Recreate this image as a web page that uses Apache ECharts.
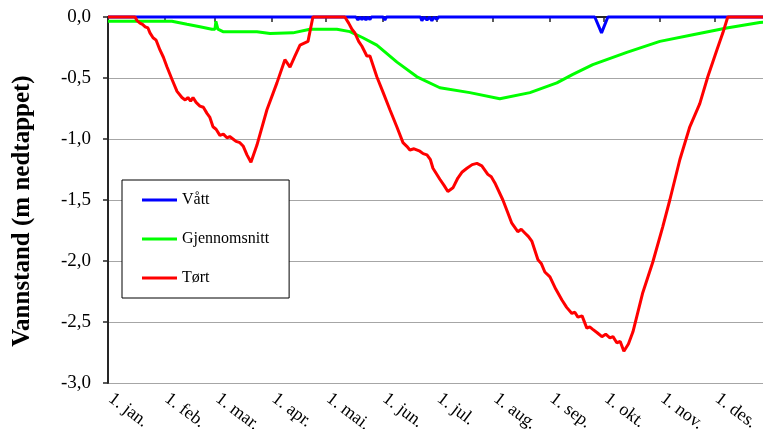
<!DOCTYPE html>
<html>
<head>
<meta charset="utf-8">
<style>
  html, body { margin: 0; padding: 0; background: #fff; }
  #chart { width: 763px; height: 429px; }
</style>
<script src="https://cdn.jsdelivr.net/npm/echarts@6/dist/echarts.min.js"></script>
</head>
<body>
<div id="chart"></div>
<script>
// Day of year (0 = 1. jan.) for the first day of each month, and their labels
const monthStarts = [0, 31, 59, 90, 120, 151, 181, 212, 243, 273, 304, 334];
const monthLabels = ['1. jan.', '1. feb.', '1. mar.', '1. apr.', '1. mai.', '1. jun.',
                     '1. jul.', '1. aug.', '1. sep.', '1. okt.', '1. nov.', '1. des.'];

// Vått (wet year)
const wetDays = [0, 136.5, 137.6, 138.7, 139.8, 141, 142, 143, 144.2, 145, 151.5, 152.4, 153.3,
                 172, 172.8, 174, 175.6, 177, 178.3, 179.5, 181, 182, 268, 271.7, 275.2, 365];
const wetLevels = [0, 0, -0.025, 0, -0.02, 0, -0.025, 0, -0.02, 0, 0, -0.025, 0,
                   0, -0.03, 0, -0.025, 0, -0.03, 0, -0.02, 0, 0, -0.13, 0, 0];

// Gjennomsnitt (average year)
const avgDays = [0, 35.2, 43.5, 50.6, 57.2, 58.9, 59.4, 60.5, 63.3, 82.0, 89.2, 101.8, 111.2,
                 126.0, 133.2, 140.3, 148.0, 159.1, 170.1, 182.7, 199.2, 215.7, 232.3, 247.1,
                 255.9, 266.9, 285.6, 303.8, 322.0, 340.6, 358.8, 365];
const avgLevels = [-0.035, -0.035, -0.06, -0.08, -0.10, -0.10, -0.035, -0.10, -0.12, -0.12, -0.135,
                   -0.13, -0.10, -0.10, -0.12, -0.17, -0.23, -0.37, -0.49, -0.58, -0.62, -0.67,
                   -0.62, -0.54, -0.47, -0.39, -0.29, -0.20, -0.145, -0.09, -0.045, -0.035];

// Tørt (dry year)
const dryDays = [0, 14.9, 16.0, 17.6, 19.0, 20.5, 22.0, 23.1, 24.8, 26.5, 28.6, 30.5, 32.5, 35.2,
                 38.0, 40.7, 42.5, 44.0, 45.5, 46.8, 48.5, 50.6, 52.5, 54.5, 56.0, 57.8, 59.5,
                 61.6, 63.5, 65.5, 67.0, 68.8, 70.5, 72.6, 74.5, 76.5, 78.7, 82.0, 87.5, 93.0,
                 97.4, 100.2, 102.9, 105.7, 110.1, 112.8, 130.4, 132.5, 134.3, 135.9, 138.0,
                 139.8, 142.5, 144.2, 148.0, 151.5, 155.2, 159.0, 162.4, 164.5, 166.2, 168.5,
                 171.7, 173.5, 175.6, 177.5, 178.9, 182.7, 185.0, 187.1, 189.9, 192.6, 195.0,
                 197.6, 200.5, 203.1, 205.8, 209.1, 211.0, 213.0, 217.4, 220.0, 222.3, 225.6,
                 227.5, 229.5, 231.5, 233.4, 236.7, 238.5, 240.5, 243.3, 246.5, 249.9, 252.5,
                 255.4, 257.0, 258.7, 261.0, 263.6, 265.2, 266.9, 269.5, 271.9, 274.0, 276.3,
                 278.0, 280.1, 282.0, 284.0, 286.5, 289.0, 294.4, 299.9, 305.4, 309.3, 314.8,
                 320.3, 325.8, 330.2, 335.2, 338.5, 341.2, 365];
const dryLevels = [0, 0, -0.03, -0.05, -0.06, -0.08, -0.09, -0.13, -0.17, -0.19, -0.27, -0.33,
                   -0.41, -0.51, -0.61, -0.66, -0.68, -0.66, -0.69, -0.66, -0.70, -0.73, -0.74,
                   -0.79, -0.82, -0.90, -0.92, -0.97, -0.96, -0.99, -0.98, -1.00, -1.02, -1.03,
                   -1.06, -1.13, -1.19, -1.05, -0.76, -0.54, -0.35, -0.41, -0.32, -0.23, -0.20,
                   0, 0, -0.05, -0.10, -0.13, -0.20, -0.24, -0.32, -0.32, -0.49, -0.62, -0.76,
                   -0.90, -1.03, -1.06, -1.09, -1.08, -1.10, -1.12, -1.13, -1.17, -1.24, -1.33,
                   -1.38, -1.43, -1.40, -1.32, -1.27, -1.24, -1.21, -1.20, -1.22, -1.29, -1.31,
                   -1.36, -1.50, -1.60, -1.69, -1.76, -1.74, -1.77, -1.80, -1.84, -1.99, -2.02,
                   -2.09, -2.13, -2.23, -2.32, -2.38, -2.43, -2.42, -2.46, -2.45, -2.55, -2.54,
                   -2.56, -2.59, -2.62, -2.60, -2.63, -2.62, -2.67, -2.66, -2.74, -2.68, -2.58,
                   -2.26, -2.01, -1.72, -1.50, -1.17, -0.90, -0.71, -0.49, -0.27, -0.13, 0, 0];

const pairs = (xs, ys) => xs.map((x, i) => [x, ys[i]]);

const serif = '"Times New Roman", "Liberation Serif", serif';
const chart = echarts.init(document.getElementById('chart'), null, { renderer: 'canvas' });

const lineSeries = (name, color, xs, ys) => ({
  name: name,
  type: 'line',
  data: pairs(xs, ys),
  showSymbol: false,
  symbol: 'none',
  clip: false,
  animation: false,
  lineStyle: { color: color, width: 3 },
  itemStyle: { color: color }
});

chart.setOption({
  backgroundColor: '#ffffff',
  animation: false,
  grid: { left: 108, top: 17, width: 663, height: 366, containLabel: false, outerBoundsMode: 'none' },
  legend: {
    orient: 'vertical',
    left: 122,
    top: 180,
    padding: [12, 20, 12, 20],
    itemGap: 23,
    itemWidth: 35,
    itemHeight: 3,
    icon: 'rect',
    borderColor: '#000',
    borderWidth: 1,
    backgroundColor: '#fff',
    textStyle: { fontFamily: serif, fontSize: 16, color: '#000' },
    data: ['Vått', 'Gjennomsnitt', 'Tørt']
  },
  graphic: [{
    type: 'text',
    x: 23,
    y: 211,
    rotation: Math.PI / 2,
    style: {
      text: 'Vannstand (m nedtappet)',
      fontFamily: serif,
      fontSize: 25,
      fontWeight: 'bold',
      fill: '#000',
      align: 'center',
      verticalAlign: 'middle'
    }
  }],
  xAxis: {
    type: 'value',
    min: 0,
    max: 365,
    axisLine: { show: true, lineStyle: { color: '#262626', width: 2 } },
    axisTick: { show: true, length: 5, customValues: monthStarts, lineStyle: { color: '#262626', width: 1.5 } },
    splitLine: { show: false },
    axisLabel: {
      customValues: monthStarts,
      rotate: -37,
      margin: 12,
      padding: [0, 0, 0, 3],
      fontFamily: serif,
      fontSize: 18,
      color: '#000',
      formatter: v => monthLabels[monthStarts.indexOf(Math.round(v))] || ''
    }
  },
  yAxis: {
    type: 'value',
    min: -3,
    max: 0,
    interval: 0.5,
    axisLine: { show: true, lineStyle: { color: '#262626', width: 2 } },
    axisTick: { show: true, length: 5, lineStyle: { color: '#262626', width: 1.5 } },
    splitLine: { show: true, lineStyle: { color: '#a6a6a6', width: 1 } },
    axisLabel: {
      margin: 17,
      fontFamily: serif,
      fontSize: 19,
      color: '#000',
      formatter: v => v.toFixed(1).replace('.', ',')
    }
  },
  series: [
    lineSeries('Vått', '#0000ff', wetDays, wetLevels),
    lineSeries('Gjennomsnitt', '#00ff00', avgDays, avgLevels),
    lineSeries('Tørt', '#ff0000', dryDays, dryLevels)
  ]
});
</script>
</body>
</html>
